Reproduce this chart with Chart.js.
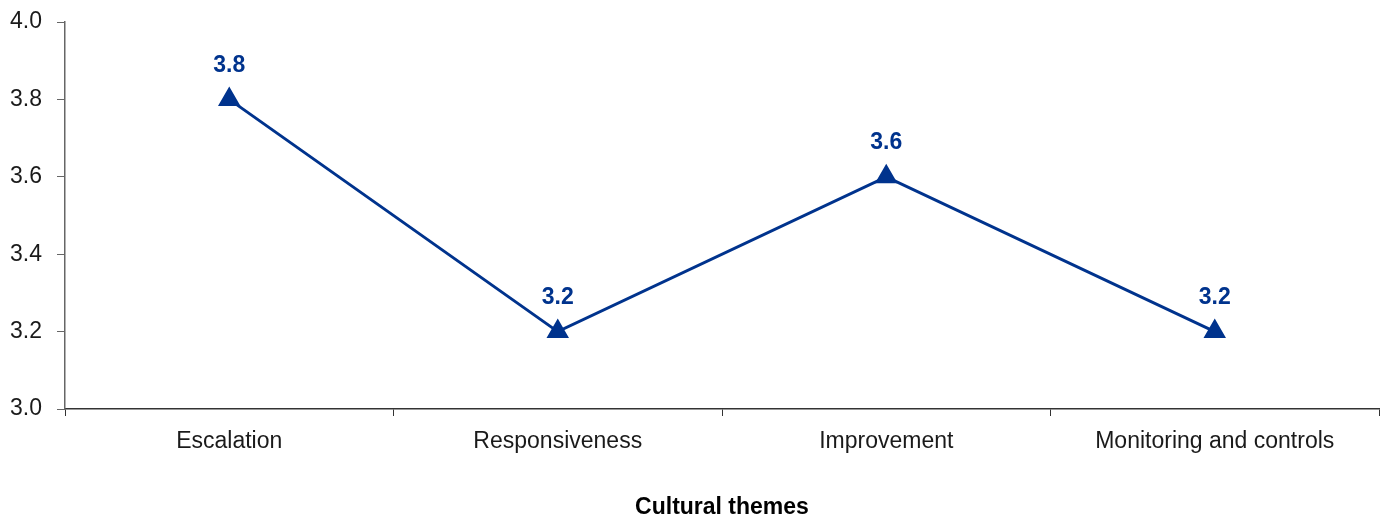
<!DOCTYPE html>
<html>
<head>
<meta charset="utf-8">
<script src="https://cdn.jsdelivr.net/npm/chart.js@4"></script>
<style>
  html, body { margin: 0; padding: 0; background: #fff; }
  #wrap { width: 1384px; height: 515px; }
</style>
</head>
<body>
<div id="wrap"><canvas id="chart"></canvas></div>
<script>
const categories = ['Escalation', 'Responsiveness', 'Improvement', 'Monitoring and controls'];
const scores = [3.8, 3.2, 3.6, 3.2];
const yTicks = [3.0, 3.2, 3.4, 3.6, 3.8, 4.0];
const xTitle = 'Cultural themes';

const navy = '#00338D';
const fontFamily = '"Liberation Sans", Arial, sans-serif';

// draws the value above each point
const valueLabels = {
    id: 'valueLabels',
    afterDatasetsDraw(chart) {
        const ctx = chart.ctx;
        const meta = chart.getDatasetMeta(0);
        ctx.save();
        ctx.font = 'bold 23px ' + fontFamily;
        ctx.fillStyle = navy;
        ctx.textAlign = 'center';
        ctx.textBaseline = 'middle';
        meta.data.forEach((pt, i) => {
            ctx.fillText(scores[i].toFixed(1), pt.x, pt.y - 34);
        });
        ctx.restore();
    }
};

new Chart(document.getElementById('chart'), {
    type: 'line',
    data: {
        labels: categories,
        datasets: [{
            data: scores,
            borderColor: navy,
            backgroundColor: navy,
            borderWidth: 3,
            pointStyle: 'triangle',
            pointRadius: 10,
            pointHoverRadius: 10,
            tension: 0
        }]
    },
    options: {
        responsive: true,
        maintainAspectRatio: false,
        animation: false,
        layout: {
            autoPadding: false,
            padding: { top: 22, right: 5, left: 0, bottom: 0 }
        },
        plugins: {
            legend: { display: false },
            tooltip: { enabled: false }
        },
        scales: {
            x: {
                offset: true,
                grid: {
                    offset: true,
                    drawOnChartArea: false,
                    tickLength: 7,
                    color: '#333'
                },
                border: { color: '#333', width: 1.5 },
                ticks: {
                    color: '#1a1a1a',
                    font: { family: fontFamily, size: 23 },
                    padding: 12,
                    maxRotation: 0
                },
                title: {
                    display: true,
                    text: xTitle,
                    color: '#000',
                    font: { family: fontFamily, size: 23, weight: 'bold' },
                    padding: { top: 30, bottom: -6 }
                },
                afterFit(scale) {
                    scale.height = 106;
                    scale.paddingLeft = 0;
                    scale.paddingRight = 0;
                }
            },
            y: {
                min: 3.0,
                max: 4.0,
                afterBuildTicks(scale) { scale.ticks = yTicks.map(v => ({ value: v })); },
                grid: {
                    drawOnChartArea: false,
                    tickLength: 8,
                    color: '#666'
                },
                border: { color: '#666', width: 1.5 },
                ticks: {
                    color: '#1a1a1a',
                    font: { family: fontFamily, size: 23 },
                    padding: 15,
                    callback: v => Number(v).toFixed(1)
                },
                afterFit(scale) {
                    scale.width = 65;
                    scale.paddingTop = 0;
                    scale.paddingBottom = 0;
                }
            }
        }
    },
    plugins: [valueLabels]
});
</script>
</body>
</html>
